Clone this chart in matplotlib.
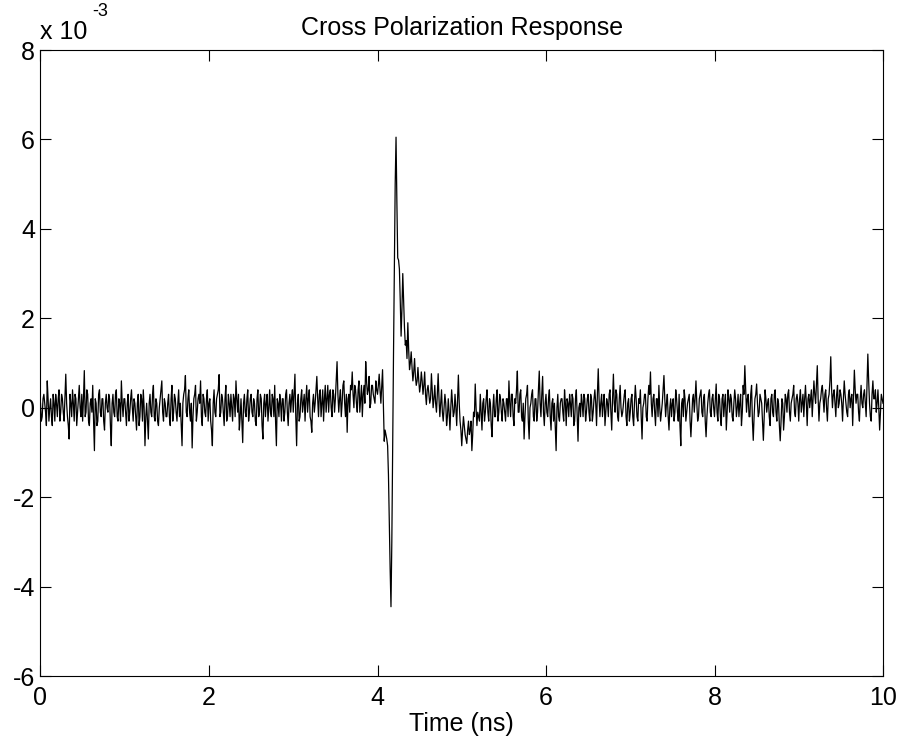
import numpy as np
import matplotlib
matplotlib.use("Agg")
import matplotlib.pyplot as plt

plt.rcParams['font.family'] = ['Liberation Sans', 'DejaVu Sans']

# Signal values in units of 1e-3.
# a-rows: samples at t = 0.5k + 0.02 i ; b-rows: samples at t = 0.5k + 0.01 + 0.02 i
a00 = [0.1, -0.2, 0.3, -0.1, 0.6, -0.3, 0.2, -0.4, 0.1, 0.3, -0.2, 0.4, -0.1, 0.2, -0.3, 0.75, -0.2, -0.7, 0.1, 0.4, -0.3, 0.2, -0.1, 0.5, -0.2]
a01 = [-0.3, 0.83, -0.1, 0.3, -0.4, 0.2, 0.5, -0.96, 0.1, -0.3, 0.4, -0.2, 0.2, -0.5, 0.3, -0.1, 0.2, -0.85, 0.3, -0.2, 0.4, -0.3, 0.1, 0.6, -0.2]
a02 = [0.2, -0.4, 0.3, -0.1, 0.4, -0.3, 0.1, -0.5, 0.3, -0.2, 0.2, 0.4, -0.85, 0.1, -0.7, 0.3, -0.2, 0.5, -0.3, 0.1, -0.4, 0.2, 0.6, -0.3, 0.1]
a03 = [-0.2, 0.3, -0.4, 0.5, -0.1, 0.2, -0.3, 0.4, 0.1, -0.85, 0.3, 0.72, -0.2, 0.4, -0.3, -0.9, 0.2, 0.5, -0.1, 0.3, 0.6, -0.4, 0.2, -0.2, 0.4]
a04 = [0.1, -0.3, -0.85, 0.4, -0.2, 0.3, 0.74, -0.1, 0.2, -0.4, 0.5, -0.2, 0.1, 0.3, -0.3, 0.2, 0.6, -0.1, -0.5, 0.2, -0.78, 0.3, -0.2, 0.4, -0.1]
a05 = [0.3, -0.2, 0.1, -0.4, 0.4, -0.1, 0.2, -0.7, 0.3, 0.1, -0.3, 0.4, -0.2, 0.2, 0.5, -0.85, 0.1, 0.3, -0.3, 0.2, -0.1, 0.4, -0.4, 0.3, 0.2]
a06 = [-0.1, 0.75, -0.85, 0.3, -0.2, 0.4, 0.1, -0.3, 0.5, 0.2, -0.2, -0.55, 0.3, 0.1, 0.7, -0.2, 0.4, 0.1, -0.3, 0.5, 0.2, -0.1, 0.4, -0.2, 0.3]
a07 = [0.2, 1.03, -0.1, 0.4, 0.1, 0.6, -0.2, -0.55, 0.3, 0.5, 0.8, 0.0, 0.4, -0.1, 0.6, 0.2, -0.2, 0.5, 1.03, 0.3, 0.7, 0.1, 0.5, 0.2, 0.6]
a08 = [0.3, 0.75, 0.1, 0.85, -0.75, -0.6, -0.85, -2.6, -4.45, -0.8, 3.2, 6.05, 3.35, 3.1, 1.6, 3.0, 1.8, 1.5, 1.9, 0.85, 1.25, 0.6, 1.1, 0.5, 0.9]
a09 = [0.35, 0.8, 0.3, 0.8, 0.07, 0.5, 0.1, 0.76, 0.0, 0.5, -0.1, 0.76, -0.2, 0.4, -0.3, 0.3, -0.4, 0.2, -0.5, 0.4, -0.2, 0.3, -0.4, 0.73, -0.3]
a10 = [-0.85, -0.2, -0.6, -0.8, -0.3, -0.5, -0.96, -0.1, 0.53, -0.4, -0.2, 0.3, -0.5, 0.2, -0.1, 0.4, -0.3, 0.1, -0.65, 0.3, -0.2, 0.4, -0.1, 0.2, -0.3]
a11 = [0.1, -0.3, 0.2, 0.6, -0.2, 0.3, -0.4, 0.1, 0.82, -0.1, 0.4, -0.3, -0.7, 0.2, 0.5, -0.7, 0.1, 0.4, -0.3, 0.2, -0.1, 0.82, -0.2, 0.7, -0.4]
a12 = [0.3, -0.2, 0.4, -0.5, 0.2, 0.1, -0.96, 0.3, -0.3, 0.2, -0.1, 0.4, -0.4, 0.1, 0.3, -0.2, 0.2, -0.3, 0.4, -0.75, 0.1, 0.3, -0.2, 0.2, -0.1]
a13 = [0.3, -0.3, 0.2, -0.1, 0.4, -0.4, 0.87, -0.2, 0.3, 0.1, -0.4, 0.2, -0.2, 0.4, -0.5, 0.75, -0.1, 0.3, -0.3, 0.5, -0.2, 0.1, 0.4, -0.4, 0.2]
a14 = [-0.1, 0.3, -0.4, 0.5, -0.2, 0.2, 0.4, -0.7, 0.1, 0.3, -0.3, 0.5, 0.8, -0.2, 0.3, -0.4, 0.2, 0.5, -0.3, 0.1, 0.72, -0.2, 0.3, -0.5, 0.2]
a15 = [0.1, -0.3, 0.4, -0.1, 0.3, -0.85, 0.2, 0.4, -0.3, 0.1, 0.3, -0.65, 0.2, -0.1, 0.6, -0.3, 0.2, 0.4, -0.2, 0.3, -0.65, 0.1, 0.4, -0.2, 0.3]
a16 = [-0.2, 0.53, -0.3, 0.2, -0.4, 0.3, 0.1, -0.5, 0.4, -0.1, 0.2, -0.3, 0.4, -0.2, 0.3, 0.1, -0.4, 0.5, 0.94, -0.1, 0.3, -0.2, 0.5, -0.73, 0.2]
a17 = [0.53, -0.2, 0.3, 0.1, -0.73, 0.4, -0.1, 0.2, -0.4, 0.3, -0.2, 0.4, -0.3, 0.1, -0.74, 0.2, -0.5, 0.3, -0.1, 0.4, -0.3, 0.2, 0.5, -0.2, 0.3]
a18 = [-0.3, 0.4, 0.1, -0.2, 0.5, -0.4, 0.3, 0.2, -0.2, 0.6, 0.1, 0.94, -0.3, 0.2, 0.5, -0.1, 0.4, -0.3, 0.3, 1.14, 0.0, 0.4, -0.2, 0.5, 0.1]
a19 = [0.3, -0.3, 0.6, 0.1, -0.2, 0.4, 0.2, -0.4, 0.84, 0.1, 0.3, -0.3, 0.5, 0.0, 0.4, -0.2, 1.2, 0.1, -0.3, 0.6, 0.2, -0.1, 0.4, -0.5, 0.3]

b00 = [-0.3, 0.2, 0.1, -0.4, 0.2, 0.0, -0.2, 0.3, -0.3, 0.1, 0.2, -0.3, 0.3, -0.1, 0.2, 0.1, -0.4, 0.3, -0.2, 0.1, 0.3, -0.4, 0.2, 0.0, 0.3]
b01 = [0.2, -0.2, 0.4, -0.3, 0.1, -0.1, -0.3, 0.2, -0.4, 0.3, -0.1, 0.2, -0.3, 0.1, 0.0, 0.3, -0.4, 0.1, -0.1, 0.3, -0.2, 0.2, -0.3, 0.1, 0.2]
b02 = [-0.1, 0.1, -0.3, 0.2, 0.0, 0.2, -0.2, 0.1, -0.4, 0.3, -0.3, 0.0, -0.2, -0.3, 0.1, -0.1, 0.3, -0.2, 0.2, -0.3, 0.0, 0.4, -0.1, 0.2, -0.2]
b03 = [0.1, -0.2, 0.2, -0.3, 0.3, -0.1, 0.1, -0.2, -0.4, 0.1, 0.4, -0.1, 0.2, -0.1, 0.1, -0.2, 0.3, -0.3, 0.2, 0.1, -0.2, 0.3, -0.1, 0.2, -0.3]
b04 = [0.2, -0.5, 0.1, -0.1, 0.2, 0.4, -0.2, 0.3, -0.1, 0.2, -0.3, 0.3, -0.2, 0.0, 0.3, -0.2, 0.2, 0.3, -0.2, -0.3, 0.1, -0.1, 0.2, -0.3, 0.2]
b05 = [-0.1, 0.2, -0.3, 0.2, -0.2, 0.3, -0.4, 0.1, -0.2, 0.3, 0.0, -0.1, 0.3, -0.2, -0.3, 0.2, -0.2, 0.1, 0.2, -0.3, 0.3, -0.1, 0.1, -0.1, 0.4]
b06 = [0.3, -0.2, 0.1, -0.3, 0.2, -0.1, 0.3, 0.2, -0.1, 0.4, -0.3, 0.1, -0.1, 0.4, 0.2, 0.3, -0.2, 0.4, 0.2, -0.1, 0.5, 0.3, 0.0, 0.4, -0.1]
b07 = [0.6, 0.3, 0.2, -0.2, 0.5, 0.1, 0.3, 0.2, -0.1, 0.4, 0.3, 0.5, 0.1, 0.4, -0.1, 0.5, 0.3, 0.1, 0.6, 0.4, 0.0, 0.5, 0.3, 0.1, 0.4]
b08 = [0.5, 0.4, 0.5, 0.0, -0.5, -0.7, -1.5, -3.6, -3.0, 1.2, 5.0, 4.6, 3.3, 2.4, 2.2, 2.4, 1.4, 1.1, 1.3, 1.0, 0.9, 0.8, 0.7, 0.6, 0.6]
b09 = [0.5, 0.6, 0.5, 0.3, 0.4, 0.3, 0.2, 0.4, 0.2, 0.1, 0.3, 0.2, 0.1, -0.1, 0.0, 0.1, -0.2, -0.1, 0.0, 0.1, -0.1, 0.0, 0.2, 0.1, -0.5]
b10 = [-0.5, -0.4, -0.7, -0.5, -0.6, -0.3, -0.6, -0.2, 0.0, -0.1, -0.3, -0.1, 0.1, -0.3, 0.2, -0.1, 0.2, -0.4, 0.0, -0.2, 0.2, -0.3, 0.3, -0.1, 0.2]
b11 = [-0.1, 0.2, -0.2, 0.1, 0.3, -0.2, 0.2, 0.4, -0.1, 0.3, -0.2, 0.1, -0.2, 0.3, -0.3, 0.0, 0.3, -0.2, 0.2, -0.3, 0.4, 0.1, 0.3, -0.1, 0.1]
b12 = [-0.1, 0.2, -0.2, 0.1, -0.3, -0.4, 0.0, -0.2, 0.1, 0.2, -0.3, 0.1, 0.2, -0.2, 0.1, 0.3, -0.4, 0.2, -0.2, 0.0, -0.2, 0.1, 0.3, -0.3, 0.2]
b13 = [-0.1, 0.3, -0.3, 0.2, 0.1, 0.3, 0.2, 0.1, -0.2, 0.3, -0.1, 0.1, 0.3, -0.1, 0.2, 0.1, 0.4, -0.2, 0.2, 0.0, -0.1, 0.3, -0.2, 0.1, -0.3]
b14 = [0.2, -0.2, 0.1, 0.2, -0.3, 0.1, -0.2, 0.0, 0.3, -0.2, 0.2, 0.3, 0.1, 0.2, -0.1, 0.2, -0.2, 0.0, -0.1, 0.4, 0.2, 0.1, -0.2, 0.0, -0.2]
b15 = [0.2, -0.1, 0.2, -0.3, -0.4, 0.1, -0.2, 0.2, -0.1, 0.2, -0.3, -0.2, 0.3, 0.2, 0.1, -0.2, 0.3, -0.1, 0.2, -0.3, -0.2, 0.3, -0.1, 0.2, 0.0]
b16 = [0.2, -0.1, 0.3, -0.2, 0.2, -0.2, 0.3, -0.1, 0.2, 0.3, -0.2, 0.1, 0.2, 0.0, -0.2, 0.3, -0.1, 0.3, 0.4, 0.2, -0.2, 0.3, -0.3, -0.2, 0.3]
b17 = [0.1, -0.1, 0.2, -0.3, -0.2, 0.2, 0.1, -0.2, 0.2, -0.1, 0.3, -0.1, 0.2, -0.4, -0.3, 0.1, -0.2, 0.2, 0.3, -0.1, 0.1, 0.3, -0.1, 0.2, 0.1]
b18 = [0.2, -0.1, 0.3, 0.2, 0.1, 0.2, 0.0, 0.4, 0.2, 0.3, 0.5, 0.2, 0.1, 0.4, 0.2, 0.3, 0.0, 0.2, 0.6, 0.4, 0.3, 0.1, 0.3, 0.0, 0.4]
b19 = [0.1, 0.2, 0.3, -0.1, 0.3, 0.0, 0.3, 0.2, 0.4, 0.3, -0.1, 0.2, 0.1, 0.3, 0.1, 0.5, 0.6, -0.2, 0.3, 0.2, 0.4, 0.1, 0.0, -0.1, 0.2]
last_value = [0.1]

a_rows = [a00, a01, a02, a03, a04, a05, a06, a07, a08, a09,
          a10, a11, a12, a13, a14, a15, a16, a17, a18, a19]
b_rows = [b00, b01, b02, b03, b04, b05, b06, b07, b08, b09,
          b10, b11, b12, b13, b14, b15, b16, b17, b18, b19]

signal_mV = []
for ra, rb in zip(a_rows, b_rows):
    for va, vb in zip(ra, rb):
        signal_mV.extend([va, vb])
signal_mV += last_value

t_start, t_stop = 0.0, 10.0
time_ns = np.linspace(t_start, t_stop, len(signal_mV))
signal = np.array(signal_mV) * 1e-3

xticks = [0, 2, 4, 6, 8, 10]
yticks = [-6, -4, -2, 0, 2, 4, 6, 8]

FS = 18
fig = plt.figure(figsize=(9.04, 7.46), dpi=100)
ax = fig.add_axes([40.5 / 904, 1 - 676 / 746, (883 - 40.5) / 904, (676 - 50) / 746])
ax.plot(time_ns, signal, color='black', linewidth=0.9)
ax.set_xlim(0, 10)
ax.set_ylim(-6e-3, 8e-3)
ax.set_xticks(xticks)
ax.set_xticklabels([str(v) for v in xticks])
ax.set_yticks([v * 1e-3 for v in yticks])
ax.set_yticklabels([str(v) for v in yticks])
ax.tick_params(direction='in', length=8, width=0.8, top=True, right=True,
               labelsize=FS)
ax.tick_params(axis='x', pad=7)
ax.tick_params(axis='y', pad=4)
for s in ax.spines.values():
    s.set_linewidth(0.8)
ax.set_xlabel('Time (ns)', fontsize=FS, labelpad=2)
ax.set_title('Cross Polarization Response', fontsize=FS, pad=11)
fig.text(40 / 904, 1 - 32 / 746, 'x 10', fontsize=FS, ha='left', va='center')
fig.text(92 / 904, 1 - 12 / 746, '-3', fontsize=13, ha='left', va='center')

fig.savefig('out.png', dpi=100)
